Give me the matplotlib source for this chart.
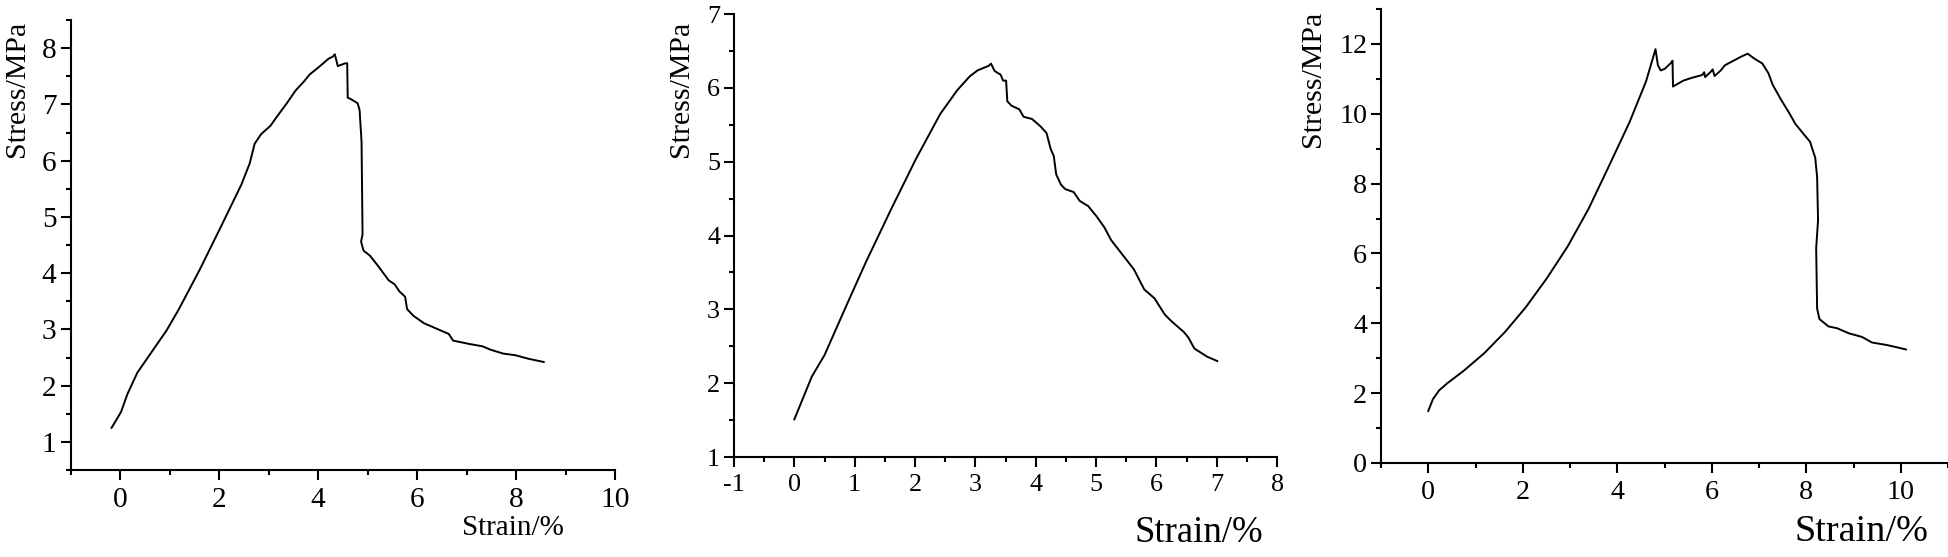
import matplotlib
matplotlib.use('Agg')
import matplotlib.pyplot as plt
from matplotlib.ticker import MultipleLocator

plt.rcParams['font.family'] = ['Liberation Serif', 'DejaVu Serif']
plt.rcParams['axes.unicode_minus'] = False

# 试样1 应力-应变曲线
strain1 = [-0.17, 0.02, 0.15, 0.35, 0.94, 1.19, 1.61, 2.03, 2.45, 2.62, 2.72, 2.85, 3.04, 3.16, 3.37,
           3.55, 3.71, 3.83, 4.04, 4.21, 4.30, 4.34, 4.40, 4.55, 4.59, 4.60, 4.67, 4.80,
           4.84, 4.88, 4.90, 4.87, 4.92, 5.05, 5.22, 5.43, 5.55, 5.64, 5.76, 5.80,
           5.93, 6.14, 6.48, 6.64, 6.73, 7.06, 7.32, 7.48, 7.74, 7.99, 8.24, 8.56]
stress1 = [1.25, 1.53, 1.85, 2.23, 2.98, 3.36, 4.06, 4.81, 5.57, 5.95, 6.30, 6.47, 6.62, 6.77, 7.02,
           7.25, 7.40, 7.53, 7.68, 7.81, 7.85, 7.89, 7.68, 7.73, 7.73, 7.12, 7.09, 7.02,
           6.90, 6.33, 4.69, 4.56, 4.40, 4.31, 4.12, 3.87, 3.80, 3.68, 3.58, 3.36,
           3.24, 3.11, 2.98, 2.92, 2.80, 2.74, 2.70, 2.64, 2.57, 2.54, 2.48, 2.42]

# 试样2
strain2 = [0.00, 0.29, 0.50, 0.84, 1.18, 1.60, 2.01, 2.42, 2.70, 2.91, 3.04, 3.22,
           3.26, 3.32, 3.42, 3.46, 3.51, 3.53, 3.60, 3.73, 3.80, 3.94, 4.08, 4.18,
           4.25, 4.30, 4.34, 4.42, 4.49, 4.63, 4.73, 4.87, 5.01, 5.14, 5.25, 5.45,
           5.63, 5.80, 5.97, 6.14, 6.25, 6.46, 6.53, 6.63, 6.84, 7.01]
stress2 = [1.51, 2.09, 2.38, 3.01, 3.63, 4.35, 5.03, 5.65, 5.97, 6.16, 6.24, 6.30,
           6.33, 6.23, 6.18, 6.10, 6.10, 5.82, 5.76, 5.71, 5.61, 5.58, 5.48, 5.39,
           5.17, 5.08, 4.83, 4.69, 4.63, 4.59, 4.47, 4.40, 4.26, 4.11, 3.94, 3.73,
           3.54, 3.27, 3.15, 2.93, 2.84, 2.69, 2.62, 2.47, 2.36, 2.30]

# 试样3
strain3 = [0.00, 0.10, 0.23, 0.40, 0.75, 1.19, 1.63, 2.07, 2.51, 2.95, 3.39, 3.82,
           4.26, 4.61, 4.81, 4.86, 4.92, 5.01, 5.14, 5.17, 5.18, 5.27, 5.40, 5.58,
           5.80, 5.84, 5.86, 5.97, 6.02, 6.06, 6.19, 6.28, 6.46, 6.63, 6.76, 6.89,
           7.07, 7.20, 7.29, 7.46, 7.64, 7.77, 7.95, 8.08, 8.19, 8.23, 8.25, 8.21,
           8.23, 8.28, 8.47, 8.65, 8.91, 9.18, 9.39, 9.70, 9.96, 10.11]
stress3 = [1.49, 1.83, 2.08, 2.28, 2.64, 3.15, 3.76, 4.47, 5.29, 6.20, 7.27, 8.49,
           9.76, 10.93, 11.85, 11.39, 11.24, 11.29, 11.46, 11.52, 10.78, 10.85, 10.95, 11.03,
           11.11, 11.19, 11.05, 11.19, 11.27, 11.08, 11.24, 11.39, 11.52, 11.64, 11.72, 11.59,
           11.44, 11.16, 10.83, 10.42, 10.02, 9.71, 9.41, 9.20, 8.74, 8.19, 6.96, 6.15,
           4.42, 4.12, 3.91, 3.86, 3.71, 3.61, 3.45, 3.38, 3.30, 3.25]

W, H = 1948, 557
fig = plt.figure(figsize=(W / 100, H / 100), dpi=100)

def px_axes(l, r, t, b):
    return fig.add_axes([l / W, (H - b) / H, (r - l) / W, (b - t) / H])

def style(ax, xlim, ylim, xmaj, ymaj, tick_fs):
    ax.set_xlim(*xlim)
    ax.set_ylim(*ylim)
    ax.xaxis.set_major_locator(MultipleLocator(xmaj))
    ax.xaxis.set_minor_locator(MultipleLocator(xmaj / 2))
    ax.yaxis.set_major_locator(MultipleLocator(ymaj))
    ax.yaxis.set_minor_locator(MultipleLocator(ymaj / 2))
    for s in ['top', 'right']:
        ax.spines[s].set_visible(False)
    for s in ['left', 'bottom']:
        ax.spines[s].set_linewidth(1.5)
    ax.tick_params(which='major', direction='out', length=7, width=1.5,
                   labelsize=tick_fs, pad=3)
    ax.tick_params(axis='x', which='major', pad=5)
    ax.tick_params(which='minor', direction='out', length=3.5, width=1.5)
    ax.set_facecolor('none')

# 图1
ax1 = px_axes(70.5, 615, 20, 470)
ax1.plot(strain1, stress1, color='black', lw=1.4)
style(ax1, (-1, 10), (0.5, 8.5), 2, 1, 21.2)
ax1.set_xlabel('Strain/%', fontsize=21)
ax1.xaxis.set_label_coords((513 - 70.5) / (615 - 70.5), (470 - 528) / 450)
ax1.xaxis.label.set_va('center')
ax1.set_ylabel('Stress/MPa', fontsize=21.5)
ax1.yaxis.set_label_coords((17 - 70.5) / (615 - 70.5), (470 - 89) / 450)
ax1.yaxis.label.set_va('center')

# 图2
ax2 = px_axes(734, 1277, 14.2, 457)
ax2.plot(strain2, stress2, color='black', lw=1.4)
style(ax2, (-1, 8), (1, 7), 1, 1, 18.8)
ax2.set_xlabel('Strain/%', fontsize=26.5)
ax2.xaxis.set_label_coords((1199 - 734) / (1277 - 734), (457 - 533) / (457 - 14.2))
ax2.xaxis.label.set_va('center')
ax2.set_ylabel('Stress/MPa', fontsize=21.5)
ax2.yaxis.set_label_coords((681 - 734) / (1277 - 734), (457 - 89) / (457 - 14.2))
ax2.yaxis.label.set_va('center')

# 图3
ax3 = px_axes(1381, 1948, 9, 463)
ax3.plot(strain3, stress3, color='black', lw=1.4)
style(ax3, (-1, 11), (0, 13), 2, 2, 20.2)
ax3.set_xticks([0, 2, 4, 6, 8, 10])
ax3.set_xlabel('Strain/%', fontsize=27.5)
ax3.xaxis.set_label_coords((1861 - 1381) / (1948 - 1381), (463 - 532) / (463 - 9))
ax3.xaxis.label.set_va('center')
ax3.set_ylabel('Stress/MPa', fontsize=21.5)
ax3.yaxis.set_label_coords((1313 - 1381) / (1948 - 1381), (463 - 79) / (463 - 9))
ax3.yaxis.label.set_va('center')

fig.savefig('out.png', dpi=100)
